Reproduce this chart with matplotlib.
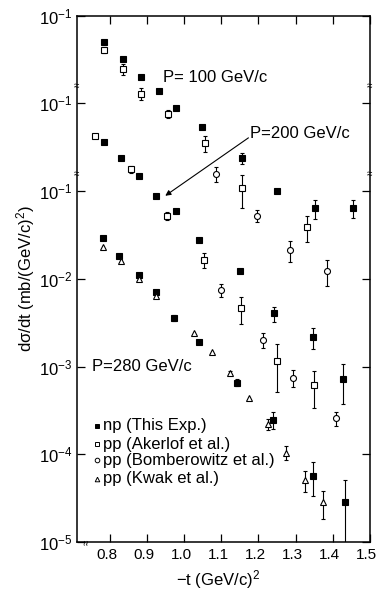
import numpy as np
import matplotlib
matplotlib.use('Agg')
import matplotlib.pyplot as plt
import matplotlib.transforms as mtransforms

plt.rcParams['font.family'] = ['Liberation Sans', 'DejaVu Sans']
plt.rcParams['mathtext.default'] = 'regular'

# stacking factors: each momentum is shifted by one decade
scale = {100: 100.0, 200: 10.0, 280: 1.0}

# dsigma/dt in mb/(GeV/c)^2, errors as upper error (0 = no bar drawn)
# P = 100 GeV/c
t_np_100 = [0.784, 0.834, 0.884, 0.932, 0.978, 1.049, 1.157, 1.251, 1.352, 1.454]
s_np_100 = [5.0e-2, 3.2e-2, 2.0e-2, 1.4e-2, 8.9e-3, 5.4e-3, 2.4e-3, 1.0e-3, 6.4e-4, 6.4e-4]
e_np_100 = [0, 0, 0, 0, 0, 0, 3.4e-4, 0, 1.6e-4, 1.5e-4]

t_ak_100 = [0.784, 0.834, 0.884, 0.957, 1.055, 1.157, 1.331]
s_ak_100 = [4.06e-2, 2.47e-2, 1.28e-2, 7.6e-3, 3.5e-3, 1.09e-3, 3.95e-4]
e_ak_100 = [2.9e-3, 3.7e-3, 2.0e-3, 8.3e-4, 7.4e-4, 4.5e-4, 1.3e-4]

t_bo_100 = [1.085, 1.196, 1.286, 1.385]
s_bo_100 = [1.56e-3, 5.27e-4, 2.14e-4, 1.23e-4]
e_bo_100 = [3.0e-4, 8.4e-5, 5.9e-5, 4.1e-5]

# P = 200 GeV/c
t_np_200 = [0.783, 0.831, 0.878, 0.924, 0.977, 1.041, 1.151, 1.242, 1.346, 1.427]
s_np_200 = [3.59e-2, 2.36e-2, 1.50e-2, 8.85e-3, 6.0e-3, 2.79e-3, 1.23e-3, 4.03e-4, 2.18e-4, 7.2e-5]
e_np_200 = [0, 0, 0, 0, 0, 0, 6.6e-5, 7.7e-5, 6.0e-5, 3.5e-5]

t_ak_200 = [0.759, 0.858, 0.953, 1.053, 1.152, 1.251, 1.350]
s_ak_200 = [4.21e-2, 1.78e-2, 5.27e-3, 1.65e-3, 4.67e-4, 1.16e-4, 6.18e-5]
e_ak_200 = [0, 1.6e-3, 5.8e-4, 3.3e-4, 1.6e-4, 6.5e-5, 2.8e-5]

t_bo_200 = [1.100, 1.211, 1.292, 1.409]
s_bo_200 = [7.5e-4, 2.01e-4, 7.43e-5, 2.58e-5]
e_bo_200 = [1.3e-4, 4.0e-5, 1.6e-5, 4.9e-6]

# P = 280 GeV/c
t_np_280 = [0.782, 0.825, 0.877, 0.925, 0.972, 1.040, 1.142, 1.240, 1.346, 1.433]
s_np_280 = [2.91e-2, 1.83e-2, 1.11e-2, 7.05e-3, 3.56e-3, 1.93e-3, 6.56e-4, 2.48e-4, 5.71e-5, 2.85e-5]
e_np_280 = [0, 0, 0, 0, 2.9e-4, 0, 6.0e-5, 5.5e-5, 2.4e-5, 2.2e-5]

t_kw_280 = [0.780, 0.830, 0.877, 0.925, 1.026, 1.076, 1.124, 1.175, 1.226, 1.274, 1.326, 1.373]
s_kw_280 = [2.33e-2, 1.58e-2, 9.93e-3, 6.4e-3, 2.44e-3, 1.45e-3, 8.53e-4, 4.36e-4, 2.22e-4, 1.04e-4, 5.09e-5, 2.85e-5]
e_kw_280 = [0, 0, 0, 0, 0, 0, 4.0e-5, 0, 3.1e-5, 1.9e-5, 1.4e-5, 1.0e-5]

ytick_vals = [1e-5, 1e-4, 1e-3, 1e-2, 1e-1, 1e0, 1e1]
ytick_labels = ['$10^{-5}$', '$10^{-4}$', '$10^{-3}$', '$10^{-2}$',
                '$10^{-1}$', '$10^{-1}$', '$10^{-1}$']
xtick_vals = [0.8, 0.9, 1.0, 1.1, 1.2, 1.3, 1.4, 1.5]

fig = plt.figure(figsize=(3.77, 5.90), dpi=100)
ax = fig.add_axes([0.204, 0.0814, 0.777, 0.892])


def draw(t, s, e, p, marker, filled):
    t = np.array(t)
    y = np.array(s) * scale[p]
    err = np.array(e) * scale[p]
    has = err > 0
    if has.any():
        bottom = np.maximum(y[has] - err[has], 1e-6)
        ax.errorbar(t[has], y[has], yerr=[y[has] - bottom, err[has]], fmt='none',
                    ecolor='black', elinewidth=0.8, capsize=1.6, capthick=0.8, zorder=2)
    ax.plot(t, y, marker, ls='none', ms=4.3, mec='black', mew=0.8,
            mfc='black' if filled else 'white', zorder=3)


draw(t_np_100, s_np_100, e_np_100, 100, 's', True)
draw(t_ak_100, s_ak_100, e_ak_100, 100, 's', False)
draw(t_bo_100, s_bo_100, e_bo_100, 100, 'o', False)
draw(t_np_200, s_np_200, e_np_200, 200, 's', True)
draw(t_ak_200, s_ak_200, e_ak_200, 200, 's', False)
draw(t_bo_200, s_bo_200, e_bo_200, 200, 'o', False)
draw(t_np_280, s_np_280, e_np_280, 280, 's', True)
draw(t_kw_280, s_kw_280, e_kw_280, 280, '^', False)

ax.set_yscale('log')
ax.set_xlim(0.711, 1.50)
ax.set_ylim(1e-5, 1e1)
ax.set_xticks(xtick_vals)
ax.set_xticklabels([f'{v:.1f}' for v in xtick_vals])
ax.set_yticks(ytick_vals)
ax.set_yticklabels(ytick_labels)
ax.yaxis.set_minor_locator(matplotlib.ticker.NullLocator())
ax.tick_params(axis='both', which='major', direction='in', length=6, width=0.9,
               labelsize=12, top=True, right=True)
ax.tick_params(axis='x', pad=4, labelsize=11)
ax.tick_params(axis='y', pad=3)
# x tick labels sit a little left of their ticks in the original
shift = mtransforms.ScaledTranslation(-3 / 100, 0, fig.dpi_scale_trans)
for lab in ax.get_xticklabels():
    lab.set_transform(lab.get_transform() + shift)
for sp in ax.spines.values():
    sp.set_linewidth(1.1)

ax.set_ylabel('dσ/dt (mb/(GeV/c)$^2$)', fontsize=12)
ax.yaxis.set_label_coords(-0.135, 0.5)
ax.set_xlabel('−t (GeV/c)$^2$', fontsize=12)
ax.xaxis.set_label_coords(0.481, -0.05)

# momentum labels
ax.text(0.944, 2.0, 'P= 100 GeV/c', fontsize=12, ha='left', va='center')
ax.text(1.178, 0.451, 'P=200 GeV/c', fontsize=12, ha='left', va='center')
ax.annotate('', xy=(0.949, 0.0885), xytext=(1.173, 0.405),
            arrowprops=dict(arrowstyle='-|>', lw=0.8, color='black',
                            shrinkA=0, shrinkB=0, mutation_scale=8))
ax.text(0.7505, 1.0e-3, 'P=280 GeV/c', fontsize=12, ha='left', va='center')

# axis break marks
for yb in [0.865, 0.698]:
    for xb in [0.0, 1.0]:
        ax.text(xb, yb, '≈', transform=ax.transAxes, fontsize=7,
                ha='center', va='center', clip_on=False)
ax.text(0.034, 0.0, '≈', transform=ax.transAxes, fontsize=7, rotation=90,
        ha='center', va='center', clip_on=False)

# legend
leg_marks = [('s', 'black'), ('s', 'white'), ('o', 'white'), ('^', 'white')]
leg_texts = ['np (This Exp.)', 'pp (Akerlof et al.)',
             'pp (Bomberowitz et al.)', 'pp (Kwak et al.)']
leg_y = [0.221, 0.186, 0.155, 0.120]
for (m, fc), txt, yy in zip(leg_marks, leg_texts, leg_y):
    ax.plot([0.067], [yy], m, transform=ax.transAxes, ms=3.3, mec='black',
            mew=0.7, mfc=fc, clip_on=False)
    ax.text(0.0877, yy, txt, transform=ax.transAxes, fontsize=12,
            ha='left', va='center')

fig.savefig('out.png', dpi=100)
